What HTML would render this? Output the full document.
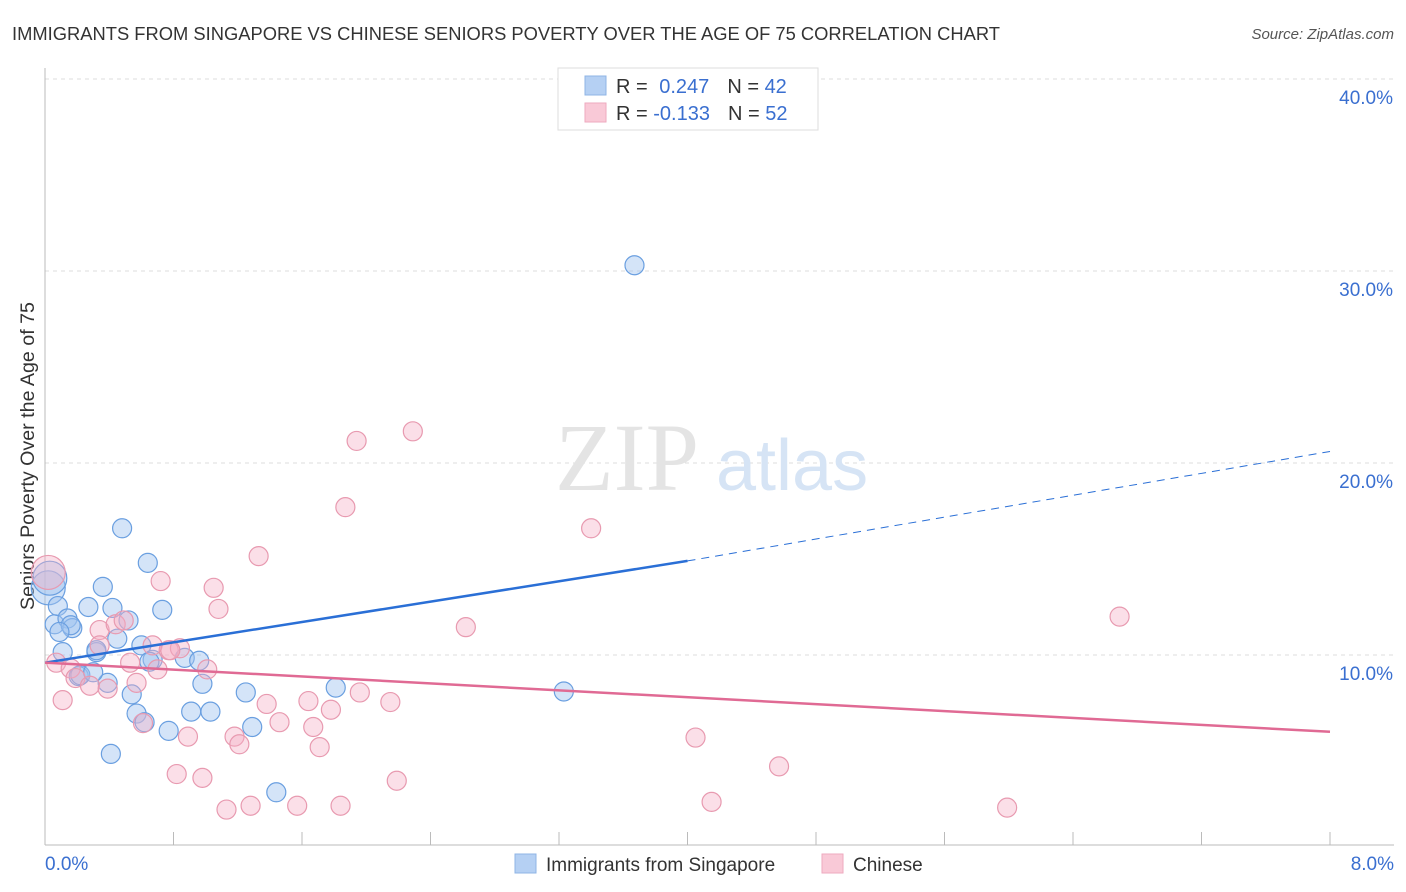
<!DOCTYPE html>
<html><head><meta charset="utf-8"><style>
body{margin:0;background:#fff;font-family:"Liberation Sans",sans-serif;}
svg{display:block}
</style></head><body>
<svg id="chart" width="1406" height="892" xmlns="http://www.w3.org/2000/svg">
<text x="12" y="40" font-size="18" fill="#333" textLength="988" lengthAdjust="spacingAndGlyphs">IMMIGRANTS FROM SINGAPORE VS CHINESE SENIORS POVERTY OVER THE AGE OF 75 CORRELATION CHART</text>
<text x="1394" y="39" font-size="15" fill="#555" font-style="italic" text-anchor="end">Source: ZipAtlas.com</text>
<g id="grid"></g>
<text x="555" y="490" font-size="96" fill="#e4e4e4" font-family="Liberation Serif,serif">ZIP</text>
<text x="716" y="490" font-size="72" fill="#d6e4f5">atlas</text>
<line x1="45" y1="68" x2="45" y2="845" stroke="#bbb"/>
<line x1="45" y1="845" x2="1394" y2="845" stroke="#bbb"/>
<g id="xticks"></g>
<text x="34" y="456" font-size="19" fill="#333" text-anchor="middle" textLength="308" lengthAdjust="spacingAndGlyphs" transform="rotate(-90 34 456)">Seniors Poverty Over the Age of 75</text>
<text x="45" y="870" font-size="19" fill="#3a6fd0">0.0%</text>
<text x="1394" y="870" font-size="19" fill="#3a6fd0" text-anchor="end">8.0%</text>
<g id="pts"></g>
<g id="lines"></g>
<g>
<rect x="558" y="68" width="260" height="62" fill="#fff" stroke="#ddd"/>
<rect x="585" y="76" width="21" height="19" fill="#b5d0f3" stroke="#8fb4e6"/>
<rect x="585" y="103" width="21" height="19" fill="#f9c9d7" stroke="#eeaabf"/>
<text x="616" y="93" font-size="20" fill="#333">R = <tspan fill="#3a6fd0" dx="6">0.247</tspan><tspan dx="18" fill="#333">N = </tspan><tspan fill="#3a6fd0">42</tspan></text>
<text x="616" y="120" font-size="20" fill="#333">R = <tspan fill="#3a6fd0">-0.133</tspan><tspan dx="18" fill="#333">N = </tspan><tspan fill="#3a6fd0">52</tspan></text>
</g>
<g>
<rect x="515" y="854" width="21" height="19" fill="#b5d0f3" stroke="#8fb4e6"/>
<text x="546" y="871" font-size="19" fill="#333">Immigrants from Singapore</text>
<rect x="822" y="854" width="21" height="19" fill="#f9c9d7" stroke="#eeaabf"/>
<text x="853" y="871" font-size="19" fill="#333">Chinese</text>
</g>
</svg>
<script>
const blueX=[.02,.03,.06,.08,.14,.17,.11,.21,.22,.27,.32,.32,.36,.39,.41,.42,.45,.48,.52,.54,.57,.60,.62,.64,.67,.73,.77,.87,.91,.96,.98,1.03,1.25,1.29,1.44,1.81,3.23,3.67,.65,.30,.16,.09];
const blueY=[13.5,14.0,11.6,12.55,11.9,11.4,10.15,8.9,8.95,12.5,10.15,10.25,13.55,8.55,4.85,12.45,10.85,16.6,11.8,7.95,6.95,10.5,6.5,14.8,9.75,12.35,6.05,9.85,7.05,9.7,8.5,7.05,8.05,6.25,2.85,8.3,8.1,30.3,9.65,9.1,11.55,11.2];
const pinkX=[.02,.07,.11,.16,.19,.28,.34,.39,.44,.49,.53,.57,.61,.67,.70,.72,.77,.82,.84,.89,.98,1.01,1.05,1.08,1.13,1.18,1.21,1.28,1.33,1.38,1.46,1.57,1.64,1.67,1.71,1.78,1.84,1.87,1.94,1.96,2.15,2.19,2.29,2.62,3.40,4.05,4.15,4.57,5.99,6.69,.34,.78];
const pinkY=[14.3,9.6,7.65,9.3,8.8,8.4,11.3,8.25,11.6,11.8,9.6,8.55,6.45,10.5,9.25,13.85,10.25,3.8,10.35,5.75,3.6,9.25,13.5,12.4,1.95,5.75,5.35,2.15,15.15,7.45,6.5,2.15,7.6,6.25,5.2,7.15,2.15,17.7,21.15,8.05,7.55,3.45,21.65,11.45,16.6,5.7,2.35,4.2,2.05,12.0,10.5,10.25];
const yTicks=[10,20,30,40];
const yTickLabels=["10.0%","20.0%","30.0%","40.0%"];
const xTicks=[0,0.8,1.6,2.4,3.2,4.0,4.8,5.6,6.4,7.2,8.0];
const blueTrend=[9.6,14.9,20.6];
const pinkTrend=[9.6,6.0];
const NS='http://www.w3.org/2000/svg';
const sx=v=>45+v/8*1285;
const sy=v=>847-v*19.2;
function mk(tag,attrs,parent){const e=document.createElementNS(NS,tag);for(const k in attrs)e.setAttribute(k,attrs[k]);parent.appendChild(e);return e;}
const grid=document.getElementById('grid');
yTicks.forEach((t,i)=>{
 const l=mk('line',{x1:45,x2:1394,y1:sy(t),y2:sy(t),stroke:'#ddd','stroke-dasharray':'4,4'},grid);
 
 
 const tx=mk('text',{x:1393,y:sy(t)+25,'font-size':19,fill:'#3a6fd0','text-anchor':'end'},grid);
 tx.textContent=yTickLabels[i];
 
 
});
const xt=document.getElementById('xticks');
xTicks.forEach(t=>{
 const l=mk('line',{x1:sx(t),x2:sx(t),y1:832,y2:845,stroke:'#bbb'},xt);
 
 
});
const pts=document.getElementById('pts');
function dots(X,Y,fill,stroke,name){
 X.forEach((x,i)=>{
  const r=(x<0.05)?17:9.5;
  const c=mk('circle',{cx:sx(x),cy:sy(Y[i]),r:r,fill:fill,stroke:stroke,'stroke-width':1.2},pts);
  
  
 });
}
dots(blueX,blueY,'rgba(160,196,240,0.45)','#6a9fe0','point-singapore');
dots(pinkX,pinkY,'rgba(245,175,198,0.4)','#e89ab0','point-chinese');
const lines=document.getElementById('lines');
let l1=mk('line',{x1:sx(0),y1:sy(blueTrend[0]),x2:sx(4),y2:sy(blueTrend[1]),stroke:'#2a6fd6','stroke-width':2.5},lines);


let l2=mk('line',{x1:sx(4),y1:sy(blueTrend[1]),x2:sx(8),y2:sy(blueTrend[2]),stroke:'#2a6fd6','stroke-width':1,'stroke-dasharray':'8,6'},lines);


let l3=mk('line',{x1:sx(0),y1:sy(pinkTrend[0]),x2:sx(8),y2:sy(pinkTrend[1]),stroke:'#e06a94','stroke-width':2.5},lines);


</script>
</body></html>
